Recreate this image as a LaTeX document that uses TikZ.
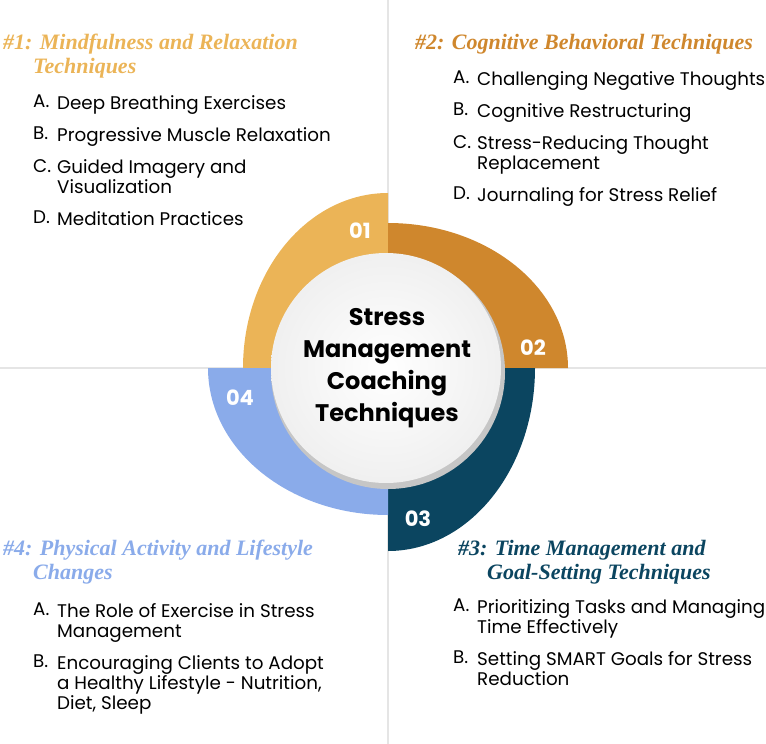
\documentclass[tikz,border=0pt]{standalone}
\usepackage{fontspec}
\setmainfont{Poppins}
\newfontfamily\headfont{Liberation Serif}
\usetikzlibrary{positioning}
\definecolor{qone}{HTML}{EBB457}
\definecolor{qtwo}{HTML}{CF872D}
\definecolor{qthree}{HTML}{0B4560}
\definecolor{qfour}{HTML}{8AABEA}

\tikzset{
  head/.style={anchor=west, inner sep=0pt, font=\headfont\bfseries\itshape\fontsize{22}{24}\selectfont},
  letter/.style={anchor=north west, inner sep=0pt, font=\fontsize{18.3}{20}\selectfont},
  item/.style={anchor=north west, inner sep=0pt, align=left, font=\fontsize{18.3}{20}\selectfont},
  num/.style={text=white, font=\bfseries\fontsize{21}{22}\selectfont},
}
% one list entry: name, x of letter, y, letter, text
\newcommand{\entry}[5]{%
  \node[letter] (#1l) at (#2,#3) {#4.};
  \node[item] (#1) at (#2+24,#3) {#5};
}

\begin{document}
\begin{tikzpicture}[x=1pt,y=-1pt]
    \useasboundingbox (0,0) rectangle (766,744);

    % dividing lines
    \coordinate (top) at (388,0);
    \coordinate (bot) at (388,744);
    \coordinate (lft) at (0,368);
    \coordinate (rgt) at (766,368);
    \draw[gray!20, line width=1.5pt] (top) -- (bot);
    \draw[gray!20, line width=1.5pt] (lft) -- (rgt);

    % quarter pieces
    \fill[qone] (388,368) -- ++(-145,0) arc[start angle=180, end angle=270, x radius=145, y radius=175] -- cycle;
    \fill[qtwo] (388,368) -- ++(0,-145) arc[start angle=270, end angle=360, x radius=180, y radius=145] -- cycle;
    \fill[qthree] (388,368) -- ++(147,0) arc[start angle=0, end angle=90, x radius=147, y radius=183] -- cycle;
    \fill[qfour] (388,368) -- ++(0,147) arc[start angle=90, end angle=180, x radius=180, y radius=147] -- cycle;

    % centre disc
    \fill[gray!45] (388,372) circle (117);
    \shade[inner color=white, outer color=gray!12] (386,368) circle (115);
    \node[align=center, font=\bfseries\fontsize{24}{32}\selectfont] (centre) at (387,368)
      {Stress\\Management\\Coaching\\Techniques};

    % numbers
    \node[num] (n1) at (360,231) {01};
    \node[num] (n2) at (533,348) {02};
    \node[num] (n3) at (418,519) {03};
    \node[num] (n4) at (240,398) {04};

    % #1
    \node[head, text=qone] (h1) at (3,44) {\#1: Mindfulness and Relaxation};
    \node[head, text=qone] (h1b) at (33,68) {Techniques};
    \entry{a1}{33}{95}{A}{Deep Breathing Exercises}
    \entry{b1}{33}{127}{B}{Progressive Muscle Relaxation}
    \entry{c1}{33}{159}{C}{Guided Imagery and\\Visualization}
    \entry{d1}{33}{211}{D}{Meditation Practices}

    % #2
    \node[head, text=qtwo] (h2) at (415,44) {\#2: Cognitive Behavioral Techniques};
    \entry{a2}{453}{71}{A}{Challenging Negative Thoughts}
    \entry{b2}{453}{103}{B}{Cognitive Restructuring}
    \entry{c2}{453}{135}{C}{Stress-Reducing Thought\\Replacement}
    \entry{d2}{453}{187}{D}{Journaling for Stress Relief}

    % #3
    \node[head, text=qthree] (h3) at (458,550) {\#3: Time Management and};
    \node[head, text=qthree] (h3b) at (487,574) {Goal-Setting Techniques};
    \entry{a3}{453}{599}{A}{Prioritizing Tasks and Managing\\Time Effectively}
    \entry{b3}{453}{651}{B}{Setting SMART Goals for Stress\\Reduction}

    % #4
    \node[head, text=qfour] (h4) at (3,550) {\#4: Physical Activity and Lifestyle};
    \node[head, text=qfour] (h4b) at (33,574) {Changes};
    \entry{a4}{33}{603}{A}{The Role of Exercise in Stress\\Management}
    \entry{b4}{33}{655}{B}{Encouraging Clients to Adopt\\a Healthy Lifestyle - Nutrition,\\Diet, Sleep}
  \end{tikzpicture}
\end{document}
